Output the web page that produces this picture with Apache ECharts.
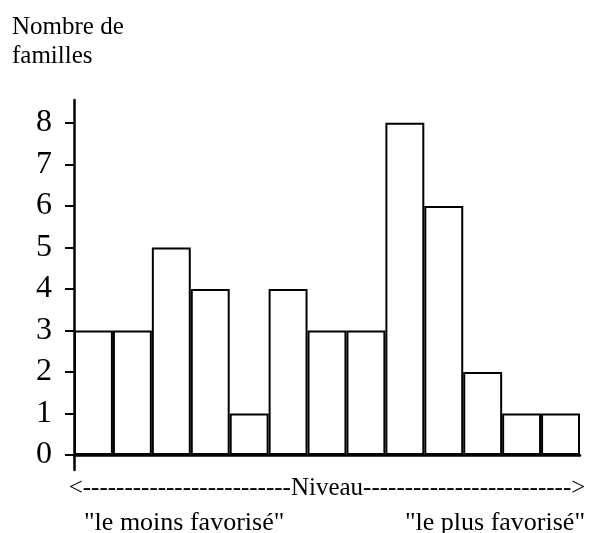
<!DOCTYPE html>
<html>
<head>
<meta charset="utf-8">
<script src="https://cdn.jsdelivr.net/npm/echarts@6/dist/echarts.min.js"></script>
<style>
    html, body { margin: 0; padding: 0; background: #fff; }
    #chart { width: 597px; height: 533px; }
</style>
</head>
<body>
<div id="chart"></div>
<script>
    "use strict";
    //数据
    var categories = ["1", "2", "3", "4", "5", "6", "7", "8", "9", "10", "11", "12", "13"];
    var familles = [3, 3, 5, 4, 1, 4, 3, 3, 8, 6, 2, 1, 1];
    var yTicks = [0, 1, 2, 3, 4, 5, 6, 7, 8];

    var FONT = "'Liberation Serif', 'Times New Roman', serif";
    var dashes = new Array(26).join("-");

    var chart = echarts.init(document.getElementById("chart"), null, { renderer: "canvas" });
    var option = {
        animation: false,
        backgroundColor: "#fff",
        title: [{
            text: "Nombre de\nfamilles",
            left: 7,
            top: 8,
            textStyle: { fontFamily: FONT, fontSize: 25, fontWeight: "normal", color: "#000", lineHeight: 29 }
        }, {
            text: '"le moins favorisé"',
            left: 84,
            top: 510,
            padding: 0,
            textStyle: { fontFamily: FONT, fontSize: 26, fontWeight: "normal", color: "#000" }
        }, {
            text: '"le plus favorisé"',
            right: 12,
            top: 510,
            padding: 0,
            textStyle: { fontFamily: FONT, fontSize: 26, fontWeight: "normal", color: "#000" }
        }],
        grid: {
            left: 74,
            right: 17,
            top: 100,
            bottom: 63
        },
        xAxis: {
            type: "category",
            data: categories,
            name: "<" + dashes + "Niveau" + dashes + ">",
            nameLocation: "middle",
            nameGap: 6,
            nameTextStyle: { fontFamily: FONT, fontSize: 25, color: "#000" },
            axisLine: { onZero: true, lineStyle: { color: "#000", width: 2.5 } },
            axisTick: { show: false },
            axisLabel: { show: false },
            splitLine: { show: false }
        },
        yAxis: {
            type: "value",
            min: -0.36,
            max: 8.55,
            axisLine: { show: true, lineStyle: { color: "#000", width: 2.5 } },
            axisTick: { show: true, length: 9, customValues: yTicks, lineStyle: { color: "#000", width: 2 } },
            axisLabel: {
                customValues: yTicks,
                margin: 22,
                fontFamily: FONT,
                fontSize: 32,
                color: "#000"
            },
            splitLine: { show: false }
        },
        series: [{
            name: "familles",
            type: "bar",
            data: familles,
            barWidth: "100%",
            barCategoryGap: 0,
            itemStyle: { color: "#fff", borderColor: "#000", borderWidth: 2 }
        }]
    };
    chart.setOption(option);
</script>
</body>
</html>
